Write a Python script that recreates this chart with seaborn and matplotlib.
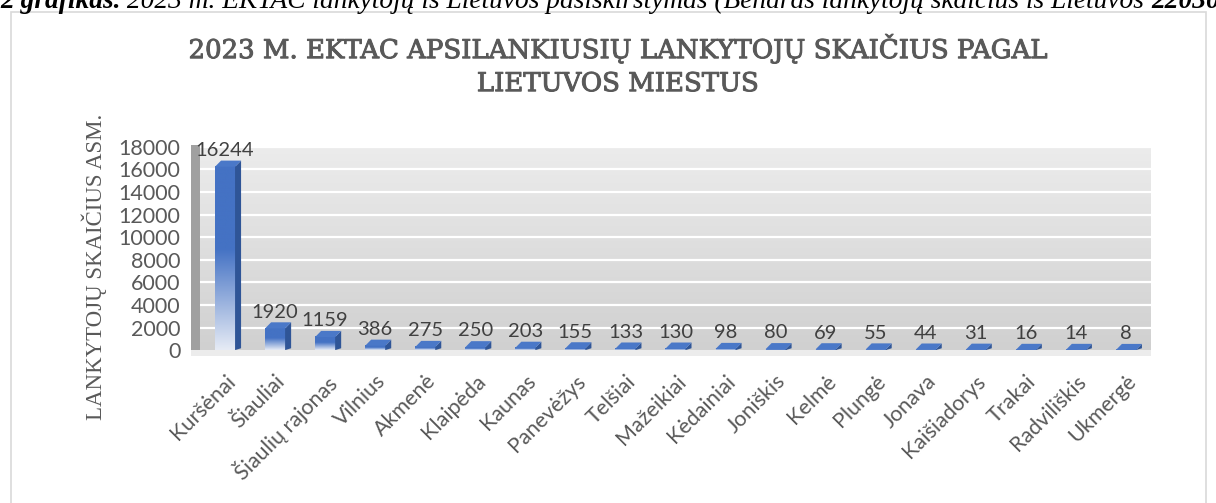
import numpy as np
import matplotlib.pyplot as plt
import matplotlib.patheffects as pe
import seaborn as sns
import pandas as pd
from matplotlib.colors import LinearSegmentedColormap
from matplotlib.patches import Polygon, Rectangle

cities = ["Kuršėnai", "Šiauliai", "Šiaulių rajonas", "Vilnius", "Akmenė", "Klaipėda",
          "Kaunas", "Panevėžys", "Telšiai", "Mažeikiai", "Kėdainiai", "Joniškis",
          "Kelmė", "Plungė", "Jonava", "Kaišiadorys", "Trakai", "Radviliškis", "Ukmergė"]
visitors = [16244, 1920, 1159, 386, 275, 250, 203, 155, 133, 130, 98, 80, 69, 55, 44, 31, 16, 14, 8]
yticks = list(range(0, 18001, 2000))

title = "2023 M. EKTAC APSILANKIUSIŲ LANKYTOJŲ SKAIČIUS PAGAL\nLIETUVOS MIESTUS"
ylabel = "LANKYTOJŲ SKAIČIUS ASM."
caption = ["2 grafikas.", " 2023 m. EKTAC lankytojų iš Lietuvos pasiskirstymas (Bendras lankytojų skaičius iš Lietuvos ", "22030"]

df = pd.DataFrame({"city": cities, "visitors": visitors})

sns.set_style("white")
plt.rcParams['font.family'] = ['Lato', 'DejaVu Sans']
grey = "#595959"

fig = plt.figure(figsize=(12.16, 5.03), dpi=100)
ax = fig.add_axes([0.1645, 0.304, 0.782, 0.404])

sns.barplot(data=df, x="city", y="visitors", color="#4472C4", width=0.4, ax=ax, zorder=3)
n = len(cities)

# background wall gradient
bg = LinearSegmentedColormap.from_list("bg", ["#d0d0d0", "#ececec"])
ax.imshow(np.linspace(0, 1, 256).reshape(-1, 1), cmap=bg, origin="lower", aspect="auto",
          extent=[-0.5, n - 0.5, 0, 18000], zorder=0)
for t in yticks[1:]:
    ax.axhline(t, color="white", lw=1.6, zorder=1)

# 3D faces + gradient fill for bars
bar_cmap = LinearSegmentedColormap.from_list("bar", [(0, "#e6ebf5"), (0.55, "#4472C4"), (1, "#4472C4")])
dx = 0.12
dy = 540
for p in ax.patches[:n]:
    x0, w, h = p.get_x(), p.get_width(), p.get_height()
    x1 = x0 + w
    p.set_visible(False)
    ax.imshow(np.linspace(0, 1, 256).reshape(-1, 1), cmap=bar_cmap, origin="lower", aspect="auto",
              extent=[x0, x1, 0, max(h, 1)], zorder=3)
    ax.add_patch(Polygon([(x1, 0), (x1 + dx, dy * 0.3), (x1 + dx, h + dy), (x1, h)],
                         closed=True, fc="#2f5597", ec="none", zorder=4))
    ax.add_patch(Polygon([(x0, h), (x0 + dx, h + dy), (x1 + dx, h + dy), (x1, h)],
                         closed=True, fc="#4a78c8", ec="none", zorder=4))
    ax.text(x0 + w / 2, h + dy + 150, f"{int(round(h))}", ha="center", va="bottom",
            fontsize=14.5, color="#404040", zorder=5)

# left wall and floor
ax.add_patch(Rectangle((-0.01, -0.01), 0.01, 1.02, transform=ax.transAxes, fc="#a0a0a0",
                       ec="none", clip_on=False, zorder=2))
ax.add_patch(Rectangle((-0.01, -0.03), 1.01, 0.03, transform=ax.transAxes, fc="#ececec",
                       ec="none", clip_on=False, zorder=2))
ax.set_xlim(-0.5, n - 0.5)
ax.set_ylim(0, 18000)

ax.set_yticks(yticks)
ax.set_yticklabels([str(t) for t in yticks])
ax.tick_params(axis="y", length=0, pad=14, labelsize=15.5, labelcolor=grey)
ax.tick_params(axis="x", length=0, pad=15, labelsize=15.5, labelcolor=grey)
plt.setp(ax.get_xticklabels(), rotation=45, ha="right", rotation_mode="anchor")
for s in ax.spines.values():
    s.set_visible(False)
ax.set_xlabel("")
ax.set_ylabel(ylabel, family="Liberation Serif", fontsize=16.5, color=grey)
ax.yaxis.set_label_coords(-0.0975, 0.41)

fig.text(0.508, 0.871, title, ha="center", va="center", family="DejaVu Serif",
         fontsize=18.7, color=grey, linespacing=1.4,
         path_effects=[pe.withStroke(linewidth=0.7, foreground=grey)])

# frame and clipped caption from the document
fig.add_artist(Rectangle((0.009, -0.1), 0.983, 1.076, transform=fig.transFigure,
                         fill=False, ec="#d9d9d9", lw=1.2))
base = 0.984
cap = fig.text(0.0, base, caption[0], ha="left", va="baseline", family="Liberation Serif",
               style="italic", fontweight="bold", fontsize=19.7, color="black")
fig.canvas.draw()
ybase = fig.transFigure.transform((0, base))[1]
cap2 = fig.text(cap.get_window_extent().x1, ybase, caption[1], transform=None, va="baseline",
                family="Liberation Serif", style="italic", fontsize=19.7, color="black")
fig.canvas.draw()
fig.text(cap2.get_window_extent().x1, ybase, caption[2], transform=None, va="baseline",
         family="Liberation Serif", style="italic", fontweight="bold", fontsize=19.7, color="black")

fig.savefig("out.png", dpi=100)
